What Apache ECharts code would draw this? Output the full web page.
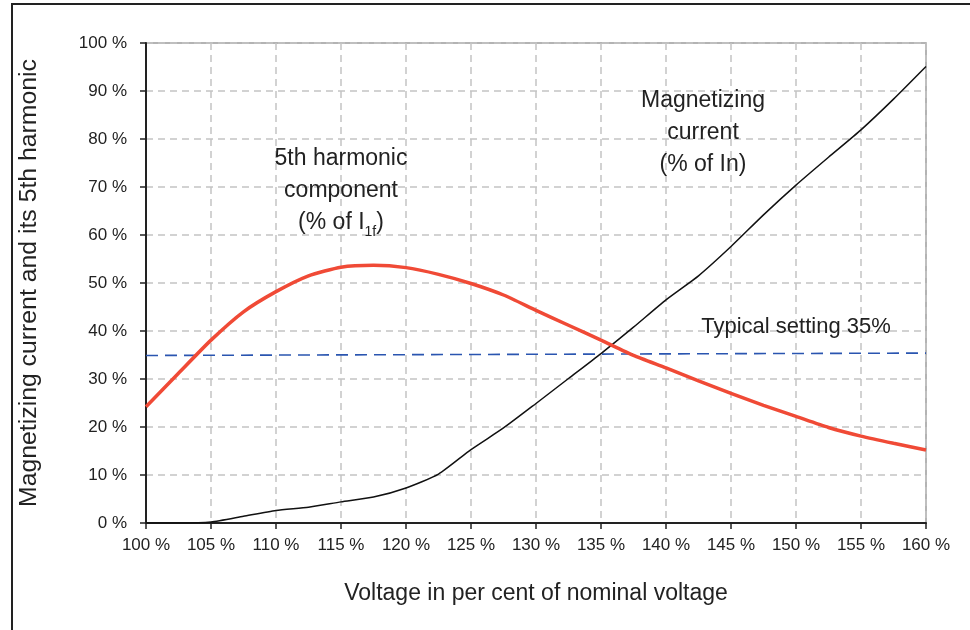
<!DOCTYPE html>
<html>
<head>
<meta charset="utf-8">
<script src="https://cdn.jsdelivr.net/npm/echarts@6/dist/echarts.min.js"></script>
<style>html,body{margin:0;padding:0;background:#fff;}#c{width:970px;height:630px;}</style>
</head>
<body>
<div id="c"></div>
<script>
// Data (voltage in % of nominal, values in %)
const voltage = [100,102.5,105,107.5,110,112.5,115,117.5,120,122.5,125,127.5,130,132.5,135,137.5,140,142.5,145,147.5,150,152.5,155,157.5,160];
const harmonicValues = [24.2,31.2,38.1,44.0,48.2,51.5,53.3,53.7,53.2,51.8,49.9,47.5,44.3,41.2,38.1,34.9,32.3,29.6,27.0,24.5,22.2,19.9,18.1,16.6,15.2];
const currentValues  = [0,0,0.2,1.4,2.6,3.3,4.4,5.4,7.3,10.2,15.3,19.8,24.9,30.1,35.3,40.8,46.5,51.5,57.6,64.2,70.4,76.2,81.9,88.3,95.1];
const settingVoltage = [100,160];
const settingValues  = [34.9,35.4];
const xTicks = {min:100, max:160, interval:5};
const yTicks = {min:0, max:100, interval:10};

const FONT = "'Liberation Sans', Arial, sans-serif";
const chart = echarts.init(document.getElementById('c'), null, {renderer:'canvas'});
const pair = (xs, ys) => xs.map((x,i)=>[x, ys[i]]);

chart.setOption({
  backgroundColor:'#fff',
  animation:false,
  grid:{left:146, right:44, top:43, bottom:107, show:true, borderColor:'#9a9a9a', borderWidth:1.5},
  xAxis:{
    type:'value', min:xTicks.min, max:xTicks.max, interval:xTicks.interval,
    name:'Voltage in per cent of nominal voltage', nameLocation:'middle', nameGap:59,
    nameTextStyle:{fontFamily:FONT, fontSize:23, color:'#222'},
    axisLine:{lineStyle:{color:'#222', width:2}},
    axisTick:{inside:false, length:6, lineStyle:{color:'#222', width:1.5}},
    axisLabel:{formatter:'{value} %', fontFamily:FONT, fontSize:17, color:'#222', margin:14},
    splitLine:{show:true, lineStyle:{color:'#c4c4c4', type:[7,5], width:1.5}}
  },
  yAxis:{
    type:'value', min:yTicks.min, max:yTicks.max, interval:yTicks.interval,
    name:'Magnetizing current and its 5th harmonic', nameLocation:'middle', nameGap:104,
    nameTextStyle:{fontFamily:FONT, fontSize:24.8, color:'#222'},
    axisLine:{show:true, lineStyle:{color:'#222', width:2}},
    axisTick:{show:true, inside:false, length:6, lineStyle:{color:'#222', width:1.5}},
    axisLabel:{formatter:'{value} %', fontFamily:FONT, fontSize:17, color:'#222', margin:19},
    splitLine:{show:true, lineStyle:{color:'#c4c4c4', type:[7,5], width:1.5}}
  },
  series:[
    {type:'line', data:pair(settingVoltage, settingValues), symbol:'none', z:3,
     lineStyle:{color:'#2a55b0', width:1.6, type:[12,7]}},
    {type:'line', data:pair(voltage, currentValues), symbol:'none', smooth:0.2, z:4,
     lineStyle:{color:'#111', width:1.5}},
    {type:'line', data:pair(voltage, harmonicValues), symbol:'none', smooth:0.2, z:5,
     lineStyle:{color:'#f04a36', width:3.5}}
  ],
  graphic:[
    {type:'rect', z:-10, silent:true, shape:{x:12, y:4, width:1000, height:700},
     style:{fill:'none', stroke:'#222', lineWidth:2}},
    {type:'text', z:10, x:341, y:143, style:{
      text:'5th harmonic\ncomponent\n(% of I{sub|1f})', textAlign:'center', textVerticalAlign:'top',
      font:'23px '+FONT, fill:'#222', lineHeight:32,
      rich:{sub:{fontSize:14, fontFamily:FONT, fill:'#222', verticalAlign:'bottom', lineHeight:20}}
    }},
    {type:'text', z:10, x:703, y:85, style:{
      text:'Magnetizing\ncurrent\n(% of In)', textAlign:'center', textVerticalAlign:'top',
      font:'23px '+FONT, fill:'#222', lineHeight:32
    }},
    {type:'text', z:10, x:796, y:327, style:{
      text:'Typical setting 35%', textAlign:'center', textVerticalAlign:'middle',
      font:'22px '+FONT, fill:'#222'
    }}
  ]
});
</script>
</body>
</html>
